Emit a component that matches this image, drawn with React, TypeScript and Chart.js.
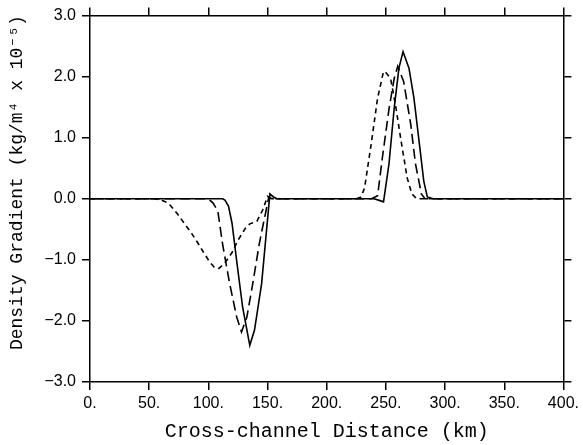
import React, { useEffect, useRef } from "react";
import { Chart, registerables } from "chart.js";

Chart.register(...registerables);

// Solid curve
const xSolid = [0, 100, 112, 114, 117, 120, 124, 129, 135, 139, 145, 152, 155, 158, 240, 245, 248, 252.6, 257, 261, 264.5, 269.5, 273.7, 278, 282, 285, 290, 400];
const ySolid = [0, 0, 0, -0.02, -0.12, -0.4, -1.03, -1.78, -2.4, -2.15, -1.39, 0.08, 0.03, 0, 0, -0.03, -0.05, 0.57, 1.48, 2.14, 2.41, 2.14, 1.65, 0.95, 0.29, 0.03, 0, 0];

// Long-dashed curve
const xLong = [0, 100, 104, 108, 112, 118, 124, 128, 132.5, 137.5, 143, 147.5, 151, 154, 238, 243, 247, 252.7, 257, 260, 265, 271, 275, 280, 283, 400];
const yLong = [0, 0, -0.07, -0.2, -0.74, -1.39, -1.94, -2.18, -1.94, -1.39, -0.74, -0.31, 0.02, 0, 0, 0.05, 0.67, 1.48, 1.97, 2.17, 1.92, 1.22, 0.57, 0.08, 0, 0];

// Short-dashed curve
const xShort = [0, 55, 60, 65, 68, 74, 80, 86, 91, 96, 101, 105, 109, 114, 120, 125, 131, 135, 141, 146, 150, 153, 225, 229, 232, 237.6, 243, 247.7, 249, 254, 258.6, 262.8, 268, 272, 276, 400];
const yShort = [0, 0, -0.02, -0.06, -0.11, -0.25, -0.41, -0.57, -0.72, -0.88, -1.03, -1.12, -1.14, -1.05, -0.88, -0.68, -0.49, -0.41, -0.37, -0.18, 0.04, 0, 0, 0.03, 0.18, 0.9, 1.65, 2.06, 2.09, 1.97, 1.48, 0.95, 0.34, 0.08, 0, 0];

const xTickStep = 50;
const yTickStep = 1;
const xTitle = "Cross-channel Distance (km)";
const yTitle = "Density Gradient (kg/m\u2074 x 10\u207B\u2075)";

const pts = (xs: number[], ys: number[]) => xs.map((x, i) => ({ x, y: ys[i] }));

export default function App() {
  const ref = useRef<HTMLCanvasElement | null>(null);
  useEffect(() => {
    if (!ref.current) return;
    const black = "#000";
    const gridOpts = {
      drawOnChartArea: false,
      drawTicks: true,
      tickLength: 8,
      color: black,
      lineWidth: 1.5,
    };
    const border = { display: true, color: black, width: 1.5 };
    const tickFont = { family: "'Liberation Sans', Arial, sans-serif", size: 16 };
    const titleFont = { family: "'Liberation Mono', 'Courier New', monospace" };
    const chart = new Chart(ref.current, {
      type: "line",
      data: {
        datasets: [
          {
            label: "solid",
            data: pts(xSolid, ySolid),
            borderColor: black,
            borderWidth: 1.6,
            pointRadius: 0,
            tension: 0,
            xAxisID: "x",
            yAxisID: "y",
          },
          {
            label: "long dash",
            data: pts(xLong, yLong),
            borderColor: black,
            borderWidth: 1.6,
            borderDash: [10, 5],
            pointRadius: 0,
            tension: 0,
            xAxisID: "x",
            yAxisID: "y",
          },
          {
            label: "short dash",
            data: pts(xShort, yShort),
            borderColor: black,
            borderWidth: 1.6,
            borderDash: [5, 4],
            pointRadius: 0,
            tension: 0,
            xAxisID: "x",
            yAxisID: "y",
          },
        ],
      },
      options: {
        animation: false,
        responsive: true,
        maintainAspectRatio: false,
        layout: { padding: 0 },
        plugins: { legend: { display: false }, tooltip: { enabled: false } },
        scales: {
          x: {
            type: "linear",
            position: "bottom",
            min: 0,
            max: 400,
            grid: gridOpts,
            border,
            ticks: {
              stepSize: xTickStep,
              color: black,
              font: tickFont,
              padding: 4,
              maxRotation: 0,
              callback: (v: any) => `${v}.`,
            },
            title: {
              display: true,
              text: xTitle,
              color: black,
              font: { ...titleFont, size: 20 },
              padding: { top: 0, bottom: 1 },
            },
            afterFit: (s: any) => {
              s.height = 63;
            },
          },
          x2: {
            type: "linear",
            position: "top",
            min: 0,
            max: 400,
            grid: gridOpts,
            border,
            ticks: { stepSize: xTickStep, display: false },
            afterFit: (s: any) => {
              s.height = 14;
            },
          },
          y: {
            type: "linear",
            position: "left",
            min: -3,
            max: 3,
            grid: gridOpts,
            border,
            ticks: {
              stepSize: yTickStep,
              color: black,
              font: tickFont,
              padding: 6,
              callback: (v: any) => Number(v).toFixed(1).replace("-", "\u2212"),
            },
            title: {
              display: true,
              text: "   " + yTitle,
              color: black,
              font: { ...titleFont, size: 18 },
              padding: { top: 6, bottom: 0 },
            },
            afterFit: (s: any) => {
              s.width = 90;
            },
          },
          y2: {
            type: "linear",
            position: "right",
            min: -3,
            max: 3,
            grid: gridOpts,
            border,
            ticks: { stepSize: yTickStep, display: false },
            afterFit: (s: any) => {
              s.width = 18;
            },
          },
        },
      },
    });
    return () => chart.destroy();
  }, []);
  return (
    <div style={{ position: "fixed", left: 0, top: 0, width: 583, height: 445, background: "#fff" }}>
      <canvas ref={ref} />
    </div>
  );
}
